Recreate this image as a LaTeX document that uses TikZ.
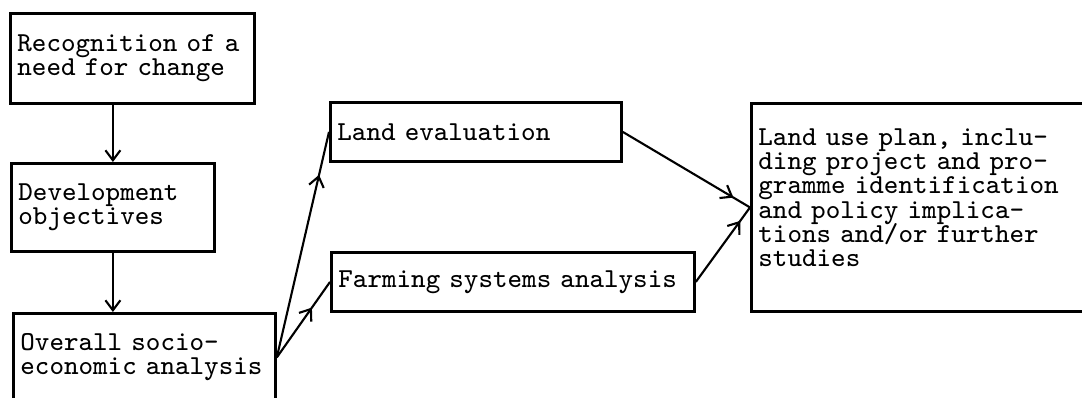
\documentclass[tikz,border=0pt]{standalone}
\usepackage{tikz}
\usetikzlibrary{arrows.meta, decorations.markings}

\newcommand{\tyfont}{\ttfamily\fontsize{7.8}{6.9}\selectfont\lineskiplimit=-10pt}

\tikzset{
	box/.style={draw, line width=0.8pt, anchor=north west, inner xsep=0.07cm, inner ysep=0pt, align=left, font=\tyfont},
	arr/.style={line width=0.6pt, -{Straight Barb[length=1mm, width=1.5mm]}},
	midarr/.style={line width=0.6pt, postaction={decorate},
		decoration={markings, mark=at position #1 with {\arrow{Straight Barb[length=1mm, width=1.5mm]}}}}
}

\begin{document}
\begin{tikzpicture}
	\useasboundingbox (0,0) rectangle (10.82,-3.97);

	\node[box, text width=2.30cm, minimum height=0.90cm] (need) at (0.09,-0.12) {Recognition of a\\need for change};
	\node[box, text width=1.89cm, minimum height=0.88cm] (obj) at (0.10,-1.62) {Development\\objectives};
	\node[box, text width=2.48cm, minimum height=0.88cm] (socio) at (0.12,-3.12) {Overall socio-\\economic analysis};

	\node[box, text width=2.77cm, minimum height=0.59cm] (landev) at (3.29,-1.01) {Land evaluation};
	\node[box, text width=3.49cm, minimum height=0.59cm] (farm) at (3.30,-2.51) {Farming systems analysis};

	\node[box, text width=3.30cm, minimum height=2.08cm, text depth=1.41cm] (plan) at (7.50,-1.02) {Land use plan, inclu-\\ding project and pro-\\gramme identification\\and policy implica-\\tions and/or further\\studies};

	\draw[arr] (obj.north |- need.south) -- (obj.north);
	\draw[arr] (obj.south) -- (obj.south |- socio.north);

	\draw[midarr=0.81] (socio.east) -- (landev.west);
	\draw[midarr=0.66] (socio.east) -- (farm.west);
	\draw[midarr=0.87] (landev.east) -- (plan.west);
	\draw[midarr=0.82] (farm.east) -- (plan.west);
\end{tikzpicture}
\end{document}
